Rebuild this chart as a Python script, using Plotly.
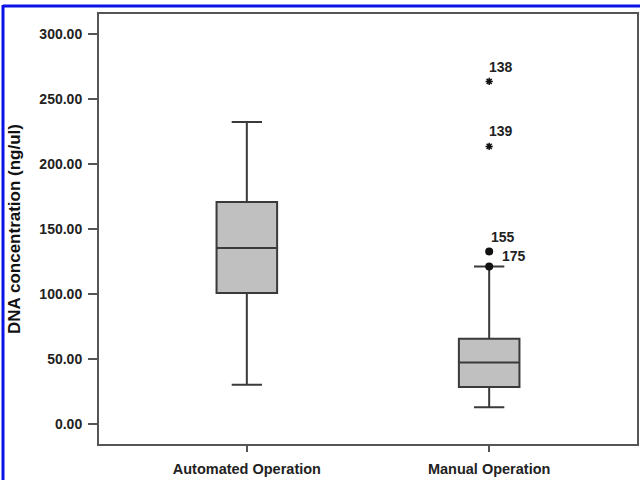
import plotly.graph_objects as go

# ---- data ----
categories = ["Automated Operation", "Manual Operation"]
q1 = [100.6, 28.2]
median = [135.3, 47.2]
q3 = [170.7, 65.4]
lower_whisker = [30.0, 12.6]
upper_whisker = [232.2, 121.1]

star_ids = ["138", "139"]
star_values = [263.5, 213.5]
dot_ids = ["155", "175"]
dot_values = [132.6, 121.1]
outlier_category = "Manual Operation"

y_ticks = [0, 50, 100, 150, 200, 250, 300]

# ---- layout geometry ----
W, H = 640, 480
ML, MR, MT, MB = 99, 3, 14, 36
pw, ph = W - ML - MR, H - MT - MB

fig = go.Figure()

fig.add_trace(go.Box(
    x=categories,
    q1=q1, median=median, q3=q3,
    lowerfence=lower_whisker, upperfence=upper_whisker,
    fillcolor="#c0c0c0",
    line=dict(color="#3a3a3a", width=2),
    whiskerwidth=0.5,
    width=0.25,
    boxpoints=False,
    hoverinfo="skip",
    showlegend=False,
))

fig.add_trace(go.Scatter(
    x=[outlier_category] * len(star_values), y=star_values,
    mode="markers",
    marker=dict(symbol="asterisk-open", size=6, color="#111",
                line=dict(color="#111", width=1.5)),
    showlegend=False,
))
fig.add_trace(go.Scatter(
    x=[outlier_category] * len(dot_values), y=dot_values,
    mode="markers",
    marker=dict(symbol="circle", size=8, color="#111"),
    showlegend=False,
))

label_font = dict(family="Liberation Sans, Arial", size=14, color="#222", weight="bold")
star_shifts = [(-2, 14), (-2, 15)]
dot_shifts = [(0, 14), (11, 10)]
for txt, val, (dx, dy) in zip(star_ids, star_values, star_shifts):
    fig.add_annotation(x=outlier_category, y=val, text=txt, showarrow=False,
                       xanchor="left", yanchor="middle", xshift=dx, yshift=dy, font=label_font)
for txt, val, (dx, dy) in zip(dot_ids, dot_values, dot_shifts):
    fig.add_annotation(x=outlier_category, y=val, text=txt, showarrow=False,
                       xanchor="left", yanchor="middle", xshift=dx, yshift=dy, font=label_font)

# blue frame of the original figure
def px_x(p):
    return (p - ML) / pw
def px_y(p):
    return (H - MB - p) / ph

blue = "#0a14e6"
fig.add_shape(type="line", xref="paper", yref="paper",
              x0=px_x(3), x1=px_x(641), y0=px_y(6), y1=px_y(6),
              line=dict(color=blue, width=3))
fig.add_shape(type="line", xref="paper", yref="paper",
              x0=px_x(3), x1=px_x(3), y0=px_y(5), y1=px_y(495),
              line=dict(color=blue, width=3))

fig.update_layout(
    width=W, height=H,
    margin=dict(l=ML, r=MR, t=MT, b=MB),
    paper_bgcolor="white", plot_bgcolor="white",
    font=dict(family="Liberation Sans, Arial", color="#222"),
    showlegend=False,
)
fig.update_xaxes(
    type="category", categoryorder="array", categoryarray=categories,
    range=[-0.61, 1.61], automargin=False,
    showline=True, linecolor="#555", linewidth=2, mirror=True,
    ticks="outside", ticklen=6, tickcolor="#555", tickwidth=1.5,
    ticklabelstandoff=5,
    tickfont=dict(size=14.5, color="#222", weight="bold"),
    showgrid=False, zeroline=False,
)
fig.update_yaxes(
    range=[-15.6, 315.4], automargin=False,
    tickvals=y_ticks, tickformat=".2f",
    showline=True, linecolor="#555", linewidth=2, mirror=True,
    ticks="outside", ticklen=9, tickcolor="#555", tickwidth=1.5,
    ticklabelstandoff=3,
    tickfont=dict(size=14, color="#222", weight="bold"),
    showgrid=False, zeroline=False,
    title=dict(text="DNA concentration (ng/ul)", standoff=14,
               font=dict(size=17, color="#111", weight="bold")),
)

fig.write_html("out.html", config={"displayModeBar": False},
               post_script="document.body.style.margin='0';")
